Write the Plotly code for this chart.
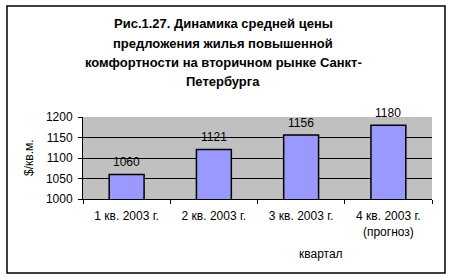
import plotly.graph_objects as go

categories = ["1 кв. 2003 г.", "2 кв. 2003 г.", "3 кв. 2003 г.", "4 кв. 2003 г.<br>(прогноз)"]
values = [1060, 1121, 1156, 1180]
title_lines = [
    "Рис.1.27. Динамика средней цены",
    "предложения жилья повышенной",
    "комфортности на вторичном рынке Санкт-",
    "Петербурга",
]
y_title = "$/кв.м."
x_title = "квартал"

W, H = 450, 280
L, R, T, B = 83, 18, 117, 81
pw, ph = W - L - R, H - T - B

def px(x):
    return (x - L) / pw

def py(y):
    return (H - B - y) / ph

FONT = "Liberation Sans, Arial, sans-serif"

fig = go.Figure()
fig.add_trace(go.Bar(
    x=categories, y=values,
    width=0.4,
    marker=dict(color="#9999FF", line=dict(color="black", width=1.5)),
    cliponaxis=False,
))

annotations = []
for c, v in zip(categories, values):
    annotations.append(dict(
        text=str(v), x=c, y=v, xref="x", yref="y", yshift=12,
        xanchor="center", yanchor="middle", showarrow=False,
        font=dict(family=FONT, size=12, color="black"),
    ))
for i, line in enumerate(title_lines):
    annotations.append(dict(
        text="<b>" + line + "</b>", x=px(223), y=py(24 + i * 19),
        xref="paper", yref="paper", xanchor="center", yanchor="middle",
        showarrow=False, font=dict(family=FONT, size=13, color="black"),
    ))
annotations.append(dict(
    text=x_title, x=px(321), y=py(254), xref="paper", yref="paper",
    xanchor="center", yanchor="middle", showarrow=False,
    font=dict(family=FONT, size=12, color="black"),
))
annotations.append(dict(
    text=y_title, x=px(29), y=py(158), xref="paper", yref="paper",
    xanchor="center", yanchor="middle", showarrow=False, textangle=-90,
    font=dict(family=FONT, size=12, color="black"),
))

fig.update_layout(
    width=W, height=H,
    margin=dict(l=L, r=R, t=T, b=B, pad=0),
    paper_bgcolor="white", plot_bgcolor="#C0C0C0",
    showlegend=False,
    annotations=annotations,
    shapes=[dict(type="rect", xref="paper", yref="paper",
                 x0=px(7), x1=px(445), y0=py(273), y1=py(6),
                 line=dict(color="black", width=1.5), fillcolor="rgba(0,0,0,0)",
                 layer="below")],
    bargap=0.6,
    font=dict(family=FONT, size=12, color="black"),
)
fig.update_xaxes(
    type="category", tickson="boundaries", ticks="outside", ticklen=4,
    tickcolor="black", showline=True, linecolor="black", linewidth=1,
    showgrid=False, tickfont=dict(family=FONT, size=12, color="black"),
    ticklabelstandoff=6,
    fixedrange=True,
)
fig.update_yaxes(
    range=[1000, 1200], dtick=50, tick0=1000, ticks="outside", ticklen=4,
    tickcolor="black", showline=True, linecolor="black", linewidth=1,
    showgrid=True, gridcolor="black", gridwidth=1, zeroline=False,
    tickfont=dict(family=FONT, size=12, color="black"),
    ticklabelstandoff=3,
    fixedrange=True,
)

fig.write_html("out.html")
